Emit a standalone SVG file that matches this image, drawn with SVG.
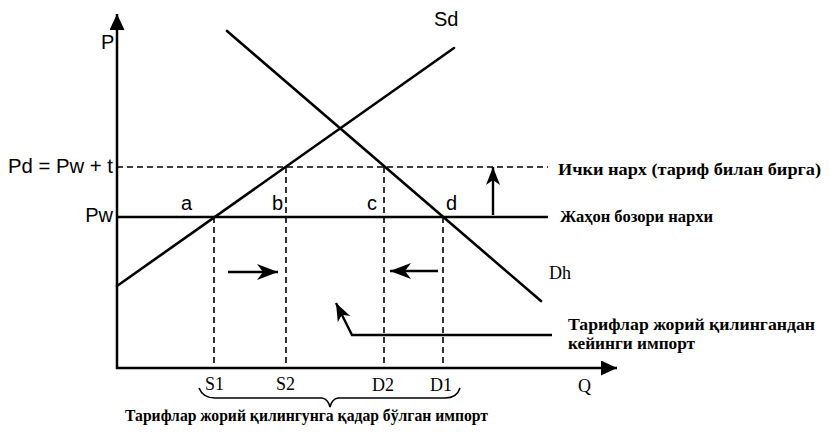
<svg xmlns="http://www.w3.org/2000/svg" width="830" height="432" viewBox="0 0 830 432">
<defs>
<marker id="ah" markerUnits="userSpaceOnUse" markerWidth="24" markerHeight="18" refX="21" refY="8" orient="auto">
<path d="M0,0 L21,8 L0,16 L6,8 Z" fill="#000"/>
</marker>
<marker id="axh" markerUnits="userSpaceOnUse" markerWidth="20" markerHeight="16" refX="16" refY="7.5" orient="auto">
<path d="M0,0 L16,7.5 L0,15 Z" fill="#000"/>
</marker>
<marker id="sh" markerUnits="userSpaceOnUse" markerWidth="20" markerHeight="16" refX="18" refY="7" orient="auto">
<path d="M0,0 L18,7 L0,14 L5,7 Z" fill="#000"/>
</marker>
</defs>
<style>
.ax{stroke:#000;stroke-width:2.5;fill:none}
.cv{stroke:#000;stroke-width:2.6;fill:none;stroke-linecap:round}
.ds{stroke:#000;stroke-width:1.6;fill:none;stroke-dasharray:6,4}
.ar{stroke:#000;stroke-width:2.4;fill:none}
.sn{font-family:"Liberation Sans","DejaVu Sans",sans-serif;font-size:20px;fill:#000}
.sr{font-family:"Liberation Serif","DejaVu Serif",serif;font-size:18px;fill:#000}
.cy{font-family:"Liberation Serif","DejaVu Serif",serif;font-size:17px;font-weight:bold;fill:#000}
</style>
<g id="axes">
<line class="ax" x1="117" y1="369" x2="117" y2="14" marker-end="url(#axh)"/>
<line class="ax" x1="116" y1="368" x2="617" y2="368" marker-end="url(#axh)"/>
<text class="sn" x="101" y="49">P</text>
<text class="sr" x="578" y="392" font-size="21">Q</text>
</g>
<g id="price-lines">
<line class="ds" x1="117" y1="167" x2="548" y2="167"/>
<line class="ax" x1="117" y1="217" x2="548" y2="217"/>
<text class="sn" x="113" y="173" text-anchor="end" textLength="105" lengthAdjust="spacingAndGlyphs">Pd = Pw + t</text>
<text class="sn" x="113" y="222" text-anchor="end">Pw</text>
</g>
<g id="supply">
<line class="cv" x1="117" y1="286" x2="454" y2="48"/>
<text class="sn" x="434" y="26">Sd</text>
</g>
<g id="demand">
<line class="cv" x1="227" y1="31" x2="541" y2="301"/>
<text class="sr" x="549" y="279" font-size="20">Dh</text>
</g>
<g id="points">
<text class="sn" x="181" y="210">a</text>
<text class="sn" x="272" y="210">b</text>
<text class="sn" x="367" y="210">c</text>
<text class="sn" x="446" y="210">d</text>
</g>
<g id="connectors">
<line class="ds" x1="214" y1="217" x2="214" y2="368"/>
<line class="ds" x1="286" y1="167" x2="286" y2="368"/>
<line class="ds" x1="384" y1="167" x2="384" y2="368"/>
<line class="ds" x1="443" y1="217" x2="443" y2="368"/>
<line class="ar" x1="228" y1="272" x2="278" y2="272" marker-end="url(#ah)"/>
<line class="ar" x1="438" y1="271" x2="390" y2="271" marker-end="url(#ah)"/>
<line class="ar" x1="493" y1="215" x2="493" y2="167" marker-end="url(#sh)"/>
<polyline class="ar" points="552,335 352,335 336,303" marker-end="url(#sh)"/>
<path d="M199,388 Q203,398 215,398 L322,398 Q328,399 330,407 Q332,399 338,398 L445,398 Q457,398 460,388" fill="none" stroke="#000" stroke-width="1.6"/>
</g>
<g id="q-labels">
<text class="sr" x="205" y="390">S1</text>
<text class="sr" x="276" y="390">S2</text>
<text class="sr" x="372" y="391">D2</text>
<text class="sr" x="430" y="391">D1</text>
</g>
<g id="legend">
<text class="cy" x="558" y="175" textLength="263" lengthAdjust="spacingAndGlyphs">Ички нарх (тариф билан бирга)</text>
<text class="cy" x="560" y="222" textLength="153" lengthAdjust="spacingAndGlyphs">Жаҳон бозори нархи</text>
<text class="cy" x="568" y="330" textLength="247" lengthAdjust="spacingAndGlyphs">Тарифлар жорий қилингандан</text>
<text class="cy" x="568" y="349" textLength="127" lengthAdjust="spacingAndGlyphs">кейинги импорт</text>
<text class="cy" x="125" y="421" textLength="363" lengthAdjust="spacingAndGlyphs">Тарифлар жорий қилингунга қадар бўлган импорт</text>
</g>
</svg>
